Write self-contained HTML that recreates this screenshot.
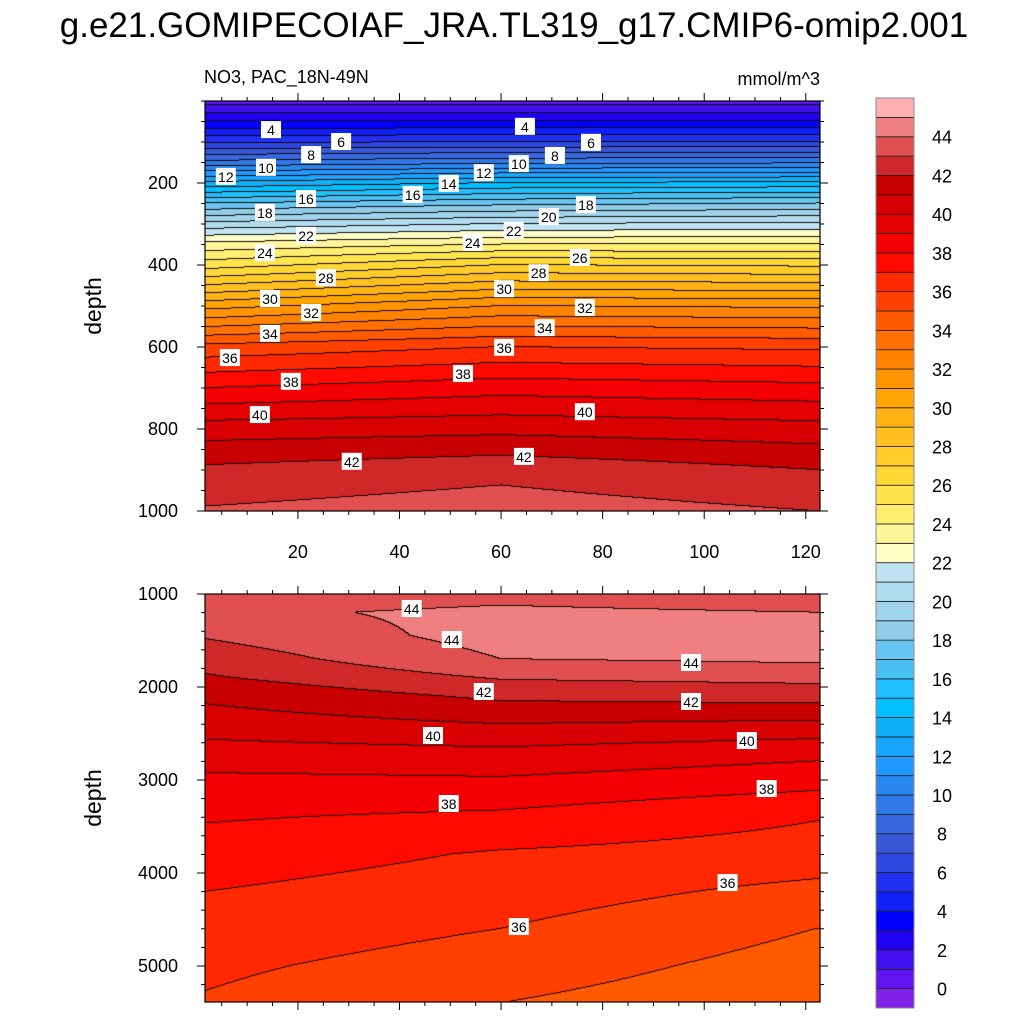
<!DOCTYPE html>
<html><head><meta charset="utf-8">
<style>
html,body{margin:0;padding:0;background:#fff;}
#root{position:relative;width:1024px;height:1024px;font-family:"Liberation Sans",sans-serif;}
canvas{position:absolute;}
svg{position:absolute;left:0;top:0;}
</style></head>
<body>
<div id="root">
<canvas id="cTop" style="left:205px;top:101px" width="615" height="410"></canvas>
<canvas id="cBot" style="left:205px;top:594px" width="615" height="408"></canvas>
<svg id="ov" width="1024" height="1024"></svg>
</div>
<script>
// ---- data ----
const colX = [2, 60, 122];
const depths = [0,50,100,150,200,250,300,350,400,500,600,700,800,900,1000,1200,1450,1700,1900,2100,2400,2700,3000,3400,3800,4200,4600,5000,5400];
const valLeft  = [0.5,3,5.8,9.3,13.2,17,20.3,23.3,25.5,30.6,35.3,38,40.5,42.2,43.1,43.7,43.1,42.4,41.9,41.2,40.5,39.6,38.8,38.1,37.5,37.0,36.6,36.2,35.9];
const valMid   = [0.5,3,6,9.7,14,17.7,21,24,27,32,36,38.6,40.7,42.7,43.5,44.3,44.4,44.0,43.1,42.2,41.0,39.8,38.9,37.8,36.9,36.5,36.0,35.5,35.0];
const valRight = [0.5,3,6,9.8,14.2,18,21.2,24,26.8,31.8,35.8,38.3,40.4,42.0,43.0,44.0,44.5,44.2,43.3,42.4,40.8,39.3,38.4,37.05,36.6,35.7,35.0,34.6,34.3];
const colors = ["#8020e8","#6014f0","#4010f0","#2000f0","#0000ff","#1020f8","#2030f0","#2c48e0","#3858d8","#3868e0","#3078e8","#2888f0","#2098ff","#18a4ff","#10b0f8","#00bfff","#20c0ff","#48c0f0","#68c4f0","#90cce8","#a0d4ec","#b0dcf0","#c0e4f4",
"#ffffc8","#fff59a","#ffee70","#ffe44c","#ffd836","#ffcc28","#ffc020","#ffb414","#ffa400","#ff9400","#ff8200","#ff7000","#ff5a00","#ff4000","#ff2800","#ff0a00","#f40000","#e40000","#d80000","#c80000","#d02828","#e05050","#f08080","#ffb0b0"];
const cbLabels = [0,2,4,6,8,10,12,14,16,18,20,22,24,26,28,30,32,34,36,38,40,42,44];
const xTicks = [20,40,60,80,100,120];
const topYTicks = [200,400,600,800,1000];
const botYTicks = [1000,2000,3000,4000,5000];
const topLabVal = [4,4,6,6,8,8,10,10,12,12,14,16,16,18,18,20,22,22,24,24,26,28,28,30,30,32,32,34,34,36,36,38,38,40,40,42,42];
const topLabX = [14.7,64.7,28.5,77.7,22.6,70.6,13.7,63.5,5.8,56.6,49.7,21.6,42.6,13.5,76.7,69.4,21.6,62.5,13.5,54.4,75.5,25.5,67.4,14.5,60.6,22.6,76.5,14.5,68.6,6.6,60.6,18.6,52.5,12.5,76.5,30.6,64.5];
const topLabD = [71,63,100,102,132,134,163,154,185,176,202,239,229,273,254,283,329,317,371,346,383,432,420,483,459,517,505,568,554,627,602,685,666,766,759,880,868];
const botLabVal = [44,44,44,42,42,40,40,38,38,36,36];
const botLabX = [42.4,50.3,97.4,56.6,97.4,46.6,108.4,49.7,112.3,104.6,63.5];
const botLabD = [1161,1495,1742,2054,2161,2527,2581,3258,3097,4108,4581];

// ---- scales ----
const X0=1.7, X1=122.8;
const px = x => 205 + (x - X0) / (X1 - X0) * 615;
const topY = d => 101 + d * 0.41;
const botY = d => 594 + (d - 1000) * 0.093;

function profile(vals, d){
  if (d <= depths[0]) return vals[0];
  for (let i=1;i<depths.length;i++){
    if (d <= depths[i]){const t=(d-depths[i-1])/(depths[i]-depths[i-1]);return vals[i-1]+t*(vals[i]-vals[i-1]);}
  }
  return vals[vals.length-1];
}
function field(x, d){
  const a=profile(valLeft,d), b=profile(valMid,d), c=profile(valRight,d);
  if (x<=colX[1]){const t=Math.max(0,(x-colX[0])/(colX[1]-colX[0]));return a+t*(b-a);}
  const t=Math.min(1,(x-colX[1])/(colX[2]-colX[1]));return b+t*(c-b);
}
function lvl(v){return Math.max(0,Math.min(46,Math.floor(v)+1));}
function hex(h){return [parseInt(h.substr(1,2),16),parseInt(h.substr(3,2),16),parseInt(h.substr(5,2),16)];}
const rgb = colors.map(hex);

function drawPanel(id, w, h, dOfRow){
  const cv=document.getElementById(id), ctx=cv.getContext('2d');
  const img=ctx.createImageData(w,h);
  const L=new Int8Array(w*h);
  for(let j=0;j<h;j++){const d=dOfRow(j+0.5);
    for(let i=0;i<w;i++){const x=X0+(i+0.5)/w*(X1-X0);L[j*w+i]=lvl(field(x,d));}}
  for(let j=0;j<h;j++)for(let i=0;i<w;i++){
    const k=j*w+i,l=L[k];let c=rgb[l];
    const edge=(i<w-1&&L[k+1]!==l)||(j<h-1&&L[k+w]!==l);
    if(edge)c=[20,10,10];
    img.data[k*4]=c[0];img.data[k*4+1]=c[1];img.data[k*4+2]=c[2];img.data[k*4+3]=255;}
  ctx.putImageData(img,0,0);
}
drawPanel('cTop',615,410,j=>j/0.41);
drawPanel('cBot',615,408,j=>1000+j/0.093);

// ---- overlay ----
const NS='http://www.w3.org/2000/svg';
const svg=document.getElementById('ov');
function el(tag,attrs,parent){const e=document.createElementNS(NS,tag);for(const k in attrs)e.setAttribute(k,attrs[k]);(parent||svg).appendChild(e);return e;}
function txt(s,attrs){const t=el('text',attrs);t.textContent=s;return t;}

let t=txt('g.e21.GOMIPECOIAF_JRA.TL319_g17.CMIP6-omip2.001',{x:514,y:37,'font-size':35,'text-anchor':'middle','font-family':'Liberation Sans'});


t=txt('NO3, PAC_18N-49N',{x:204,y:83,'font-size':18,'font-family':'Liberation Sans'});


t=txt('mmol/m^3',{x:820,y:85,'font-size':18,'text-anchor':'end','font-family':'Liberation Sans'});



function frame(y0,y1,name){
  const r=el('rect',{x:205,y:y0,width:615,height:y1-y0,fill:'none',stroke:'#000','stroke-width':1.2});
  
  
  for(let v=5;v<=120;v+=5){const X=px(v);const L=(v%20===0)?8:4;
    const a=el('line',{x1:X,x2:X,y1:y1,y2:y1+L,stroke:'#000'});
    
    
    const b=el('line',{x1:X,x2:X,y1:y0,y2:y0-L,stroke:'#000'});
    
    }
}
frame(101,511,'top-panel-frame');
frame(594,1002,'bottom-panel-frame');
xTicks.forEach(v=>{const t=txt(String(v),{x:px(v),y:558,'font-size':18,'text-anchor':'middle','font-family':'Liberation Sans'});
  
  });
function yticks(ticks,sc,minStep,dmin,dmax,name){
  for(let d=Math.ceil(dmin/minStep)*minStep;d<=dmax;d+=minStep){const Y=sc(d);const major=ticks.includes(d);const L=major?8:4;
    const a=el('line',{x1:205,x2:205-L,y1:Y,y2:Y,stroke:'#000'});
    
    
    const b=el('line',{x1:820,x2:820+L,y1:Y,y2:Y,stroke:'#000'});
    
    }
  ticks.forEach(d=>{const t=txt(String(d),{x:178,y:sc(d)+6,'font-size':18,'text-anchor':'end','font-family':'Liberation Sans'});
    
    });
}
yticks(topYTicks,topY,50,0,1000,'top-y-tick-label');
yticks(botYTicks,botY,200,1000,5366,'bottom-y-tick-label');
t=txt('depth',{x:0,y:0,'font-size':23,'text-anchor':'middle','font-family':'Liberation Sans',transform:'translate(101,306) rotate(-90)'});


t=txt('depth',{x:0,y:0,'font-size':23,'text-anchor':'middle','font-family':'Liberation Sans',transform:'translate(101,798) rotate(-90)'});



function labels(vals,xs,ds,sc){
  vals.forEach((v,i)=>{const X=px(xs[i]),Y=sc(ds[i]);
    const r=el('rect',{x:X-10,y:Y-9,width:20,height:17,fill:'#fff'});
    
    
    const t=txt(String(v),{x:X,y:Y+5,'font-size':14,'text-anchor':'middle','font-family':'Liberation Sans'});
    
    });
}
labels(topLabVal,topLabX,topLabD,topY);
labels(botLabVal,botLabX,botLabD,botY);

const cbTop=98, cbH=910/47;
colors.forEach((c,i)=>{const y=cbTop+(46-i)*cbH;
  const r=el('rect',{x:876,y:y,width:38,height:cbH,fill:c,stroke:'#222','stroke-width':0.8});
  
  });
const cbf=el('rect',{x:876,y:cbTop,width:38,height:910,fill:'none',stroke:'#888','stroke-width':1});


cbLabels.forEach(v=>{const y=cbTop+(46-v)*cbH;
  const t=txt(String(v),{x:942,y:y+7,'font-size':18,'text-anchor':'middle','font-family':'Liberation Sans'});
  
  });
</script>
</body></html>
